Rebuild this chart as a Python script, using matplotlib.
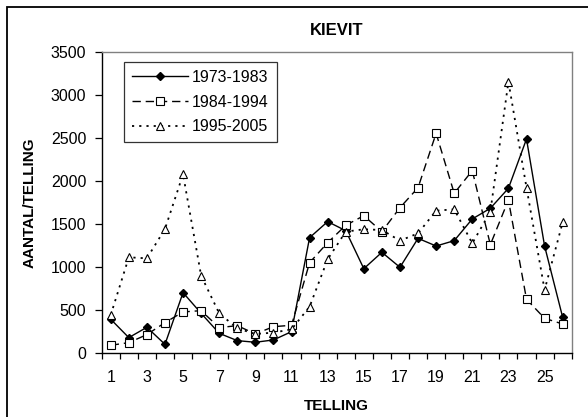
import matplotlib
matplotlib.use("Agg")
import matplotlib.pyplot as plt
from matplotlib.patches import Rectangle
from matplotlib.ticker import FixedLocator, NullFormatter

plt.rcParams['font.family'] = ['Liberation Sans', 'DejaVu Sans']

telling = list(range(1, 27))
s_1973_1983 = [395, 182, 302, 104, 704, 464, 232, 147, 128, 155, 251, 1342, 1528, 1423,
               982, 1172, 998, 1334, 1245, 1307, 1559, 1683, 1915, 2487, 1245, 418]
s_1984_1994 = [93, 124, 217, 356, 480, 495, 298, 321, 225, 309, 325, 1052, 1284, 1485,
               1597, 1412, 1690, 1922, 2553, 1857, 2120, 1261, 1779, 627, 406, 340]
s_1995_2005 = [445, 1114, 1102, 1443, 2077, 901, 464, 290, 224, 240, 278, 541, 1091, 1412,
               1439, 1431, 1307, 1392, 1655, 1671, 1276, 1644, 3152, 1922, 735, 1520]
labels = ['1973-1983', '1984-1994', '1995-2005']
xtick_labels = [str(i) for i in range(1, 26, 2)]

W, H = 588, 417
fig = plt.figure(figsize=(W / 100, H / 100), dpi=100)
ax = fig.add_axes([101.7 / W, 1 - 353.3 / H, 470 / W, 301.6 / H])

ax.plot(telling, s_1973_1983, color='black', lw=1.0, marker='D', ms=4.2,
        mfc='black', mec='black', label=labels[0], zorder=3)
ax.plot(telling, s_1984_1994, color='black', lw=1.0, ls=(0, (6, 3.5)), marker='s', ms=5.2,
        mfc='white', mec='black', mew=0.8, label=labels[1], zorder=3)
ax.plot(telling, s_1995_2005, color='black', lw=1.3, ls=(0, (1.2, 2.8)), marker='^', ms=5.8,
        mfc='white', mec='black', mew=0.8, label=labels[2], zorder=3)

ax.set_xlim(0.5, 26.5)
ax.set_ylim(0, 3500)
ax.set_yticks(range(0, 3501, 500))
ax.set_xticks(list(range(1, 26, 2)))
ax.set_xticklabels(xtick_labels)
ax.xaxis.set_minor_locator(FixedLocator([i + 0.5 for i in range(0, 27)]))
ax.xaxis.set_minor_formatter(NullFormatter())
ax.tick_params(axis='x', which='major', length=0, pad=12, labelsize=11.5)
ax.tick_params(axis='x', which='minor', length=4, width=0.9, direction='out')
ax.tick_params(axis='y', length=5, width=0.9, direction='out', pad=6, labelsize=11.5)

for side in ['top', 'right']:
    ax.spines[side].set_color('#808080')
    ax.spines[side].set_linewidth(1.0)
for side in ['left', 'bottom']:
    ax.spines[side].set_color('black')
    ax.spines[side].set_linewidth(1.0)

ax.set_title('KIEVIT', fontsize=12, fontweight='bold', pad=12)
ax.set_xlabel('TELLING', fontsize=11, fontweight='bold', labelpad=10)
ax.set_ylabel('AANTAL/TELLING', fontsize=11, fontweight='bold', labelpad=10)

leg = ax.legend(loc='upper left', bbox_to_anchor=((124 - 101.7) / 470, 1 - (61.7 - 51.7) / 301.6),
                frameon=True, fancybox=False, shadow=False, fontsize=11.5,
                handlelength=3.5, handletextpad=0.25, labelspacing=0.62,
                borderpad=0.5, borderaxespad=0.0)
leg.get_frame().set_edgecolor('black')
leg.get_frame().set_linewidth(0.9)

fig.add_artist(Rectangle((7 / W, -0.2), 1.2, (H - 7) / H + 0.2, transform=fig.transFigure,
                         fill=False, edgecolor='black', lw=1.3))

fig.savefig('out.png', dpi=100)
